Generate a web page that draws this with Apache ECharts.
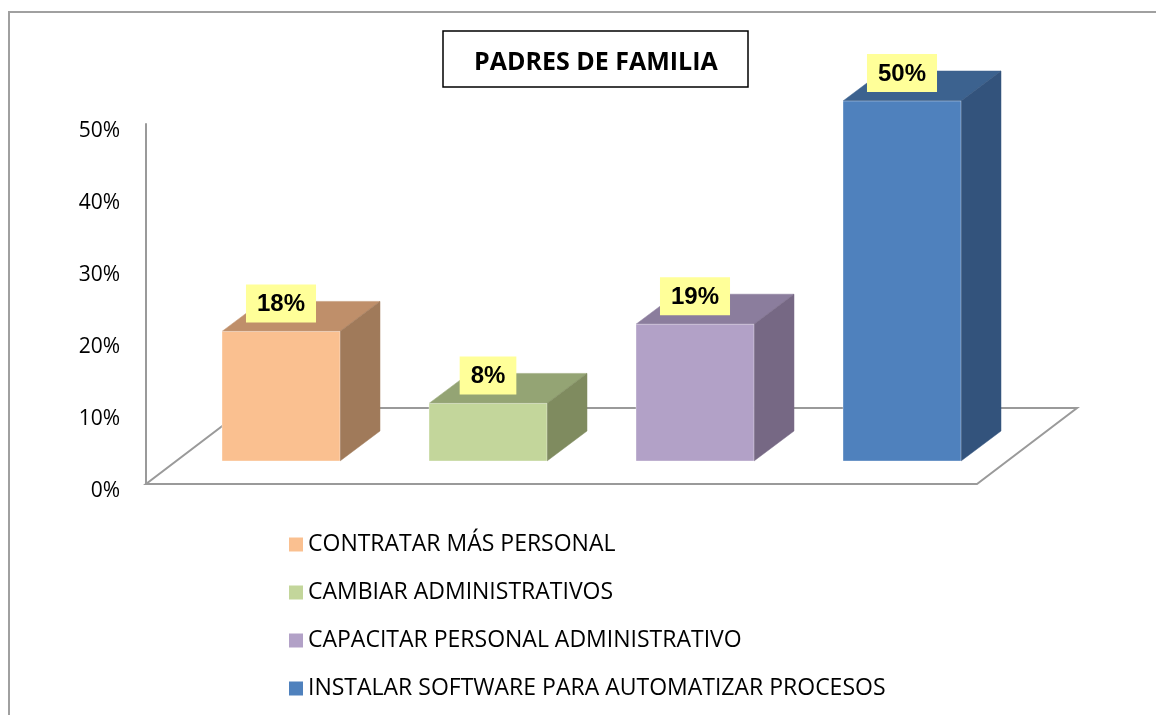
<!DOCTYPE html>
<html>
<head>
<meta charset="utf-8">
<style>
  html, body { margin: 0; padding: 0; background: #fff; }
  #chart { width: 1156px; height: 715px; }
</style>
<script src="https://cdn.jsdelivr.net/npm/echarts@6/dist/echarts.min.js"></script>
</head>
<body>
<div id="chart"></div>
<script>
// datos del grafico
var categorias = ['CONTRATAR MÁS PERSONAL', 'CAMBIAR ADMINISTRATIVOS', 'CAPACITAR PERSONAL ADMINISTRATIVO', 'INSTALAR SOFTWARE PARA AUTOMATIZAR PROCESOS'];
var valores = [18, 8, 19, 50];
var ejeMin = 0, ejeMax = 50, ejeIntervalo = 10;

// colores de cada cara (frente, arriba, lado)
var colorFrente = ['#FAC090', '#C3D69B', '#B2A1C7', '#4F81BD'];
var colorArriba = ['#BF8F6A', '#94A474', '#8B7D9D', '#3C628F'];
var colorLado = ['#A07A5A', '#7F8B5F', '#766884', '#33537C'];

var chart = echarts.init(document.getElementById('chart'));

// piso 3D dibujado desde el rectangulo del grid
function renderPiso(params, api) {
  var cs = params.coordSys;
  var dx = 100, dy = -76;
  var yb = cs.y + cs.height;
  return {
    type: 'polygon',
    shape: { points: [[cs.x, yb], [cs.x + cs.width, yb], [cs.x + cs.width + dx, yb + dy], [cs.x + dx, yb + dy]] },
    style: { fill: 'none', stroke: '#9a9a9a', lineWidth: 2 }
  };
}

function renderBarra(k) {
  return function (params, api) {
    var i = api.value(0), v = api.value(1);
    var base = api.coord([i, 0]);
    var top = api.coord([i, v]);
    var half = api.size([1, 0])[0] * 0.285;
    var dx = 40, dy = -30;
    var x0 = base[0] - half, x1 = base[0] + half, yb = base[1], yt = top[1];
    return {
      type: 'group',
      children: [
        { type: 'polygon', shape: { points: [[x0, yt], [x1, yt], [x1 + dx, yt + dy], [x0 + dx, yt + dy]] },
          style: { fill: colorArriba[k], stroke: colorArriba[k], lineWidth: 0.5 } },
        { type: 'polygon', shape: { points: [[x1, yt], [x1, yb], [x1 + dx, yb + dy], [x1 + dx, yt + dy]] },
          style: { fill: colorLado[k], stroke: colorLado[k], lineWidth: 0.5 } },
        { type: 'rect', shape: { x: x0, y: yt, width: x1 - x0, height: yb - yt },
          style: { fill: colorFrente[k], stroke: 'rgba(255,255,255,0.35)', lineWidth: 1 } },
        { type: 'text', z2: 10,
          style: { text: v + '%', x: base[0], y: yt - 9, align: 'center', verticalAlign: 'bottom',
            font: 'bold 24px "Liberation Sans", Arial', fill: '#000', backgroundColor: '#FFFF99',
            padding: [8, 11, 6, 11] } }
      ]
    };
  };
}

var series = [{
  type: 'custom',
  xAxisIndex: 1,
  yAxisIndex: 1,
  silent: true,
  renderItem: renderPiso,
  data: [[0, 0]],
  z: 1
}];
for (var k = 0; k < categorias.length; k++) {
  series.push({
    name: categorias[k],
    type: 'custom',
    xAxisIndex: 0,
    yAxisIndex: 0,
    itemStyle: { color: colorFrente[k] },
    renderItem: renderBarra(k),
    data: [[k, valores[k]]],
    z: 3
  });
}

var option = {
  animation: false,
  title: {
    text: 'PADRES DE FAMILIA',
    left: 443,
    top: 31,
    padding: [18, 31, 10, 31],
    borderColor: '#000',
    borderWidth: 1.5,
    textStyle: { fontFamily: 'Open Sans', fontWeight: 'bold', fontSize: 25, lineHeight: 28, color: '#000' }
  },
  graphic: [{
    type: 'rect',
    shape: { x: 9, y: 12, width: 1200, height: 800 },
    style: { fill: 'none', stroke: '#a0a0a0', lineWidth: 2 },
    silent: true
  }],
  legend: {
    orient: 'vertical',
    left: 284,
    top: 528,
    itemWidth: 14,
    itemHeight: 14,
    itemGap: 25,
    icon: 'rect',
    textStyle: { fontFamily: 'Open Sans', fontSize: 23, lineHeight: 23, color: '#000' },
    data: categorias.map(function (c, i) { return { name: c, itemStyle: { color: colorFrente[i] } }; })
  },
  grid: [
    { left: 177.5, top: 101, width: 828, height: 360 },   // caras de las barras
    { left: 146, top: 124, width: 831, height: 360 }      // ejes y piso
  ],
  xAxis: [
    { type: 'category', gridIndex: 0, data: categorias, show: false },
    { type: 'category', gridIndex: 1, data: categorias, show: false }
  ],
  yAxis: [
    { type: 'value', gridIndex: 0, min: ejeMin, max: ejeMax, interval: ejeIntervalo, show: false },
    { type: 'value', gridIndex: 1, min: ejeMin, max: ejeMax, interval: ejeIntervalo,
      axisLine: { show: true, lineStyle: { color: '#9a9a9a', width: 2 } },
      axisTick: { show: false },
      splitLine: { show: false },
      axisLabel: { margin: 26, formatter: '{value}%', fontFamily: 'Open Sans', fontSize: 21, color: '#000',
        verticalAlign: 'top', lineHeight: 14 } }
  ],
  series: series
};

chart.setOption(option);
</script>
</body>
</html>
